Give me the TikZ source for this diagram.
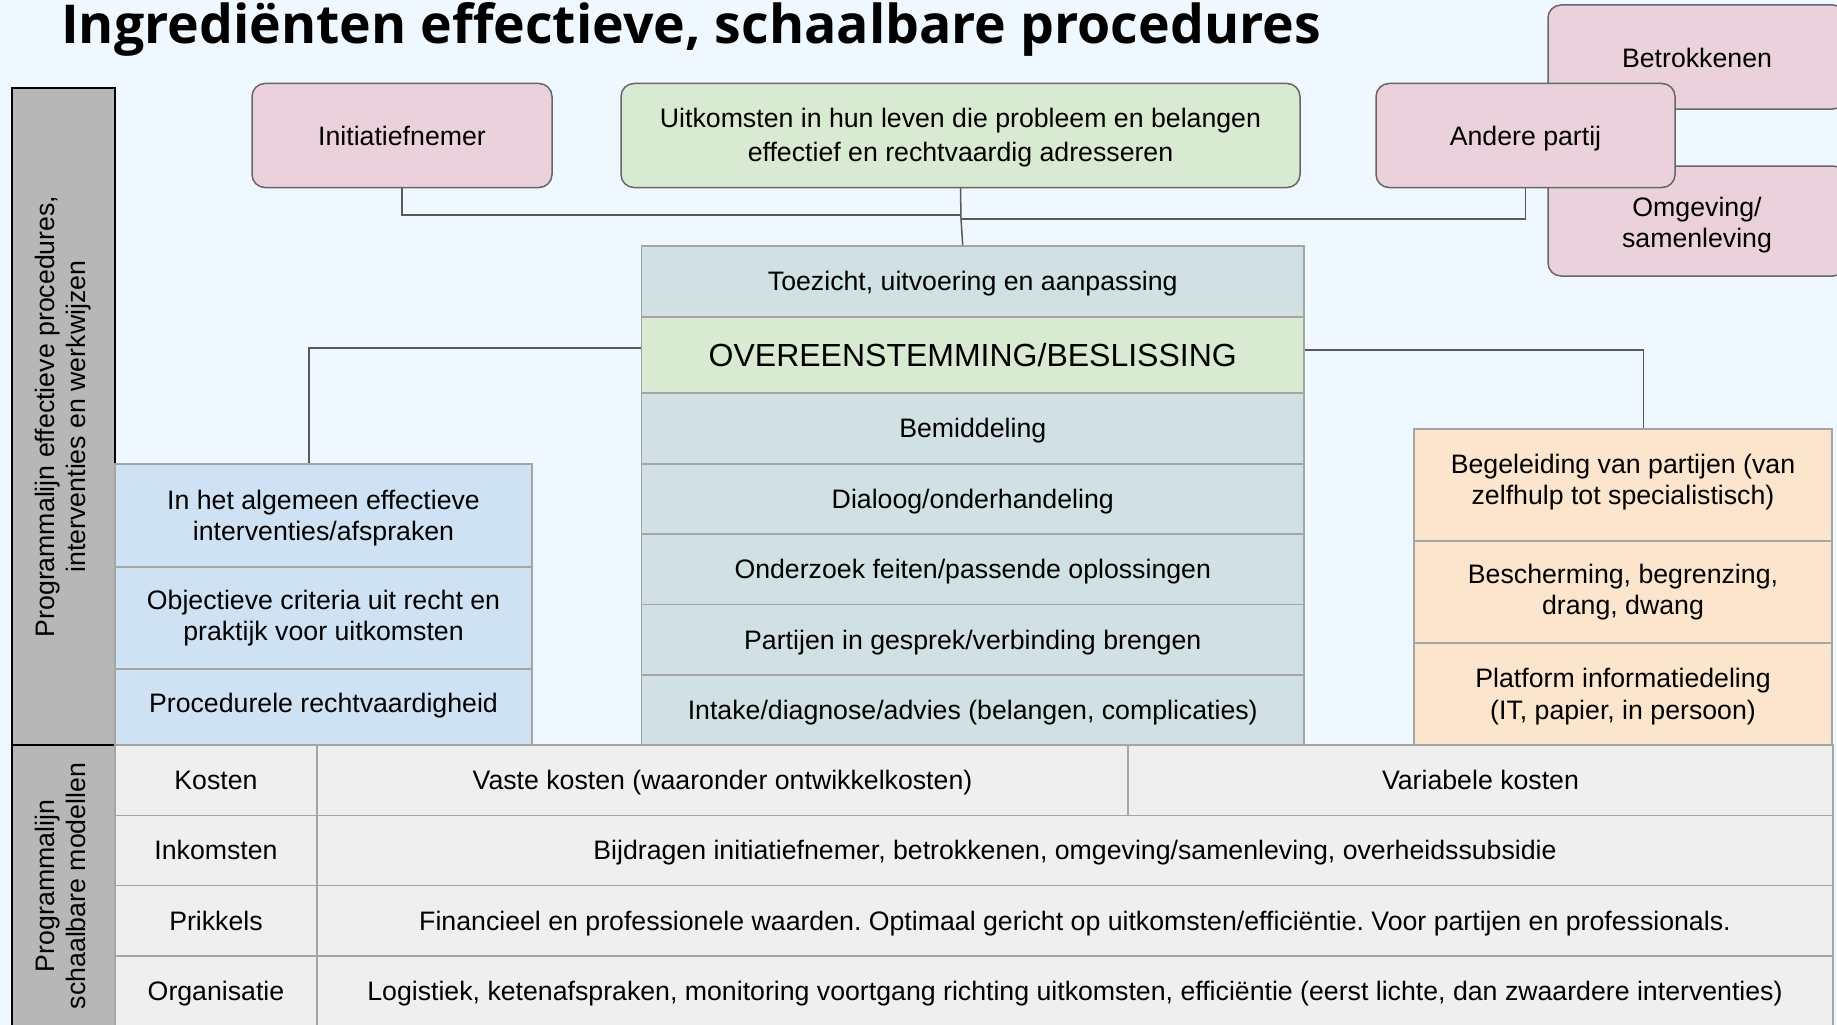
\documentclass[tikz,border=0pt]{standalone}
\usepackage{fontspec}
\setmainfont{Liberation Sans}
\newfontfamily\titlefont{Open Sans}[BoldFont={Open Sans Bold}]
\definecolor{bgc}{HTML}{F0F8FF}
\definecolor{pinkc}{HTML}{EAD1DC}
\definecolor{greenc}{HTML}{D9EAD3}
\definecolor{tealc}{HTML}{D0E0E3}
\definecolor{bluec}{HTML}{CFE2F3}
\definecolor{orangec}{HTML}{FCE5CD}
\definecolor{tgray}{HTML}{EFEFEF}
\definecolor{barg}{HTML}{B7B7B7}
\definecolor{rbord}{HTML}{666666}
\definecolor{cbord}{HTML}{A5A5A5}
\definecolor{connc}{HTML}{595959}
\newcommand\topstrut{\rule{0pt}{0.905em}}
\newcommand\botstrut{\rule[-0.212em]{0pt}{0.212em}}
\newcommand\dn[1]{\rule{0pt}{\dimexpr0.905em+#1pt+#1pt\relax}}
\begin{document}
\frenchspacing
\begin{tikzpicture}[x=1pt,y=-1pt,
  txt/.style={font=\fontsize{26.7}{31.5}\selectfont, align=center, inner sep=0pt,
    execute at begin node=\topstrut, execute at end node=\botstrut},
  tdown/.style={execute at begin node={\rule{0pt}{\dimexpr0.905em+#1pt+#1pt\relax}}},
  tup/.style={execute at end node={\rule[-\dimexpr0.212em+#1pt+#1pt\relax]{0pt}{\dimexpr0.212em+#1pt+#1pt\relax}}},
  rbox/.style={txt, draw=rbord, line width=1.5pt, rounded corners=13pt, fill=pinkc},
  cell/.style={txt, draw=cbord, line width=1.5pt},
  bar/.style={txt, draw=black, line width=1.8pt, fill=barg},
  conn/.style={draw=connc, line width=1.5pt}]
\useasboundingbox (0,0) rectangle (1837,1025);
\clip (0,0) rectangle (1837,1025);
\fill[bgc] (0,0) rectangle (1837,1025);

% title
\node[anchor=base west, inner sep=0pt, font=\titlefont\bfseries\fontsize{53.6}{60}\selectfont] (title) at (61,43.3) {Ingrediënten effectieve, schaalbare procedures};

% left bars
\node[bar, rotate=90, minimum width=657pt, minimum height=103pt] (bartop) at (63.25,416.5) {Programmalijn effectieve procedures,\\interventies en werkwijzen};
\node[bar, rotate=90, minimum width=282pt, minimum height=103pt] (barbot) at (63.25,886) {Programmalijn\\schaalbare modellen};

% top parties
\node[rbox, tdown=1, minimum width=298pt, minimum height=104pt] (betr) at (1697,57) {Betrokkenen};
\node[rbox, minimum width=298pt, minimum height=110pt] (omg) at (1697,221) {\dn{1.7}Omgeving/\\samenleving};
\node[rbox, tdown=1, minimum width=300pt, minimum height=104pt] (init) at (402,135.5) {Initiatiefnemer};
\node[rbox, fill=greenc, font=\fontsize{26.7}{34}\selectfont, minimum width=679pt, minimum height=104pt] (uit) at (960.5,135.5) {\dn{0}Uitkomsten in hun leven die probleem en belangen\\effectief en rechtvaardig adresseren};
\node[rbox, tdown=1, minimum width=299pt, minimum height=104pt] (andere) at (1525.5,135.5) {Andere partij};

% central stack
\begin{scope}[every node/.style={cell, fill=tealc, minimum width=662.5pt}]
\node[minimum height=71pt] (toez) at (972.75,281.5) {Toezicht, uitvoering en aanpassing};
\node[fill=greenc, minimum height=76pt, font=\fontsize{32}{38}\selectfont] (over) at (972.75,355) {OVEREENSTEMMING/BESLISSING};
\node[minimum height=71pt] (bemid) at (972.75,428.5) {Bemiddeling};
\node[minimum height=70pt] (dial) at (972.75,499) {Dialoog/onderhandeling};
\node[minimum height=70pt] (onderz) at (972.75,569.25) {Onderzoek feiten/passende oplossingen};
\node[minimum height=70.5pt] (partij) at (972.75,639.75) {Partijen in gesprek/verbinding brengen};
\node[minimum height=70pt] (intake) at (972.75,710) {Intake/diagnose/advies (belangen, complicaties)};
\end{scope}

% left blue stack
\begin{scope}[every node/.style={cell, fill=bluec, minimum width=417pt}]
\node[minimum height=103pt] (bl1) at (323.5,515.5) {\dn{0}In het algemeen effectieve\\interventies/afspraken};
\node[minimum height=102pt] (bl2) at (323.5,618) {Objectieve criteria uit recht en\\praktijk voor uitkomsten};
\node[tup=3.5, minimum height=76pt] (bl3) at (323.5,707) {Procedurele rechtvaardigheid};
\end{scope}

% right orange stack
\begin{scope}[every node/.style={cell, fill=orangec, minimum width=418pt}]
\node[tup=3, minimum height=112pt] (or1) at (1623,485) {Begeleiding van partijen (van\\zelfhulp tot specialistisch)};
\node[minimum height=102pt] (or2) at (1623,592) {Bescherming, begrenzing,\\drang, dwang};
\node[minimum height=102pt] (or3) at (1623,694) {\dn{0}Platform informatiedeling\\(IT, papier, in persoon)};
\end{scope}

% bottom table
\begin{scope}[every node/.style={cell, fill=tgray}]
\node[minimum width=202pt, minimum height=70.5pt] (tk1) at (216,780.25) {Kosten};
\node[minimum width=811pt, minimum height=70.5pt] (tk2) at (722.5,780.25) {Vaste kosten (waaronder ontwikkelkosten)};
\node[minimum width=705pt, minimum height=70.5pt] (tk3) at (1480.5,780.25) {Variabele kosten};
\node[minimum width=202pt, minimum height=70pt] (ti1) at (216,850.5) {Inkomsten};
\node[minimum width=1516pt, minimum height=70pt] (ti2) at (1075,850.5) {Bijdragen initiatiefnemer, betrokkenen, omgeving/samenleving, overheidssubsidie};
\node[minimum width=202pt, minimum height=70.5pt] (tp1) at (216,920.75) {Prikkels};
\node[minimum width=1516pt, minimum height=70.5pt] (tp2) at (1075,920.75) {Financieel en professionele waarden. Optimaal gericht op uitkomsten/efficiëntie. Voor partijen en professionals.};
\node[minimum width=202pt, minimum height=71pt] (to1) at (216,991.5) {Organisatie};
\node[minimum width=1516pt, minimum height=71pt] (to2) at (1075,991.5) {Logistiek, ketenafspraken, monitoring voortgang richting uitkomsten, efficiëntie (eerst lichte, dan zwaardere interventies)};
\end{scope}

% connectors
\coordinate (jl) at (961,215);
\coordinate (jr) at (961,219);
\draw[conn] (init.south) |- (jl);
\draw[conn] (andere.south) |- (jr);
\draw[conn] (uit.south) -- (961,219) -- ([xshift=-10pt]toez.north);
\draw[conn] ([yshift=7pt]over.west) -| ([xshift=-14.5pt]bl1.north);
\draw[conn] ([yshift=5pt]over.east) -| ([xshift=20.5pt]or1.north);
\end{tikzpicture}
\end{document}
